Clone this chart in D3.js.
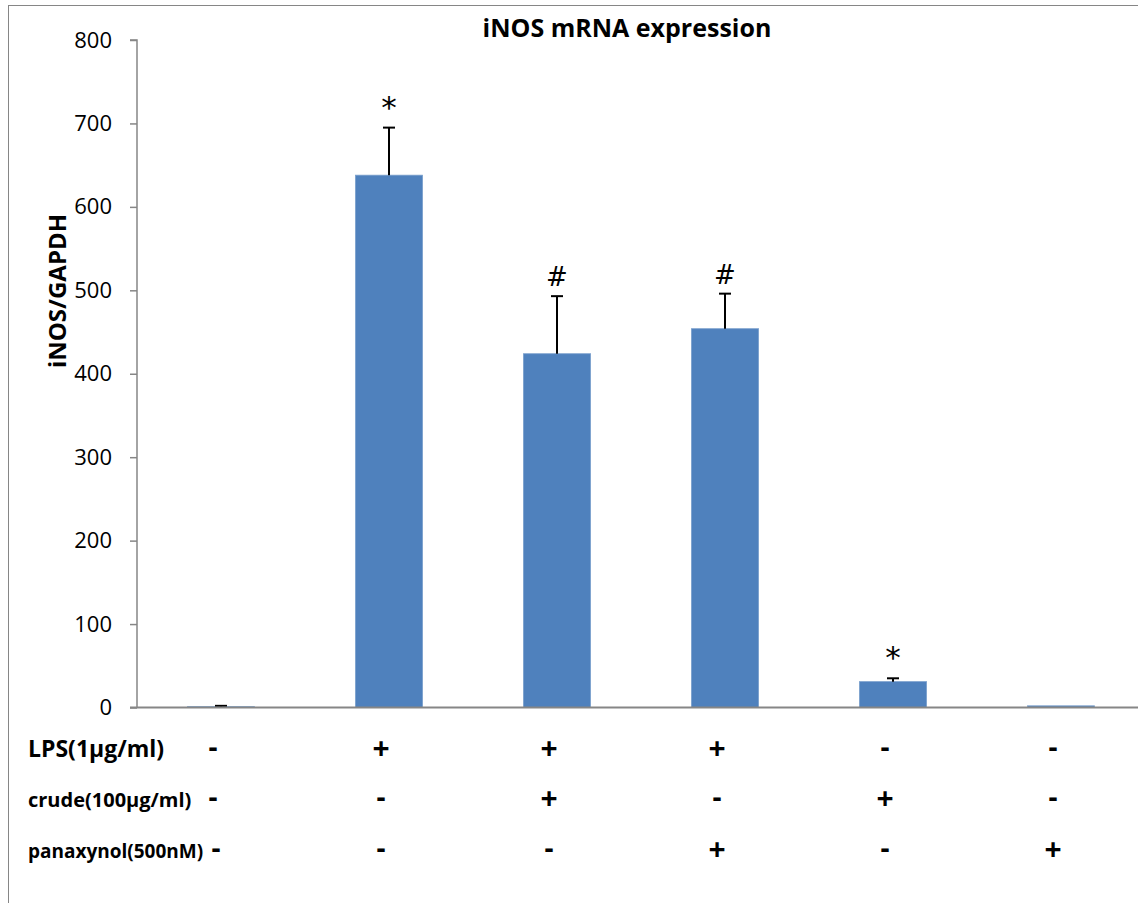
<!DOCTYPE html>
<html><head><meta charset="utf-8">
<script src="https://cdn.jsdelivr.net/npm/d3@7"></script>
<style>body{margin:0;background:#fff;} svg{display:block;font-family:"Open Sans",sans-serif;}</style>
</head><body>
<svg id="c" width="1138" height="903"></svg>
<script>
const categories = ["ctrl","LPS","LPS+crude","LPS+panaxynol","crude","panaxynol"];
const values = [1, 638, 424, 454, 31, 2];
const errors = [1, 57, 69, 42, 4, 0];
const marks = ["", "*", "#", "#", "*", ""];
const yTicks = [0,100,200,300,400,500,600,700,800];
const rowLabels = ["LPS(1μg/ml)", "crude(100μg/ml)", "panaxynol(500nM)"];
const rowSigns = [
  ["-","+","+","+","-","-"],
  ["-","-","+","-","+","-"],
  ["-","-","-","+","-","+"]
];

(function(){
const svg = d3.select("#c");
const pL = 137, pR = 1145, pT = 40, pB = 707.5;
const x = d3.scaleBand().domain(categories).range([pL, pR]).paddingInner(0.6).paddingOuter(0.3);
const y = d3.scaleLinear().domain([0, 800]).range([pB, pT]);

// outer border
svg.append("rect").attr("x",8.5).attr("y",5.5).attr("width",1160).attr("height",930)
  .attr("fill","none").attr("stroke","#868686").attr("stroke-width",1);

// y axis
const yAxis = svg.append("g").attr("transform",`translate(${pL},0)`)
  .call(d3.axisLeft(y).tickValues(yTicks).tickSize(7).tickPadding(18));
yAxis.select(".domain").attr("stroke","#868686").attr("stroke-width",1.5).attr("d",`M-7,${pT}H0V${pB}`);
yAxis.selectAll(".tick line").attr("stroke","#868686").attr("stroke-width",1.5);
yAxis.selectAll(".tick text").attr("font-size",22).attr("fill","#000").attr("font-family","'Open Sans',sans-serif");

// bars
svg.selectAll("rect.bar").data(values).join("rect").attr("class","bar")
  .attr("x",(d,i)=>x(categories[i])).attr("width",x.bandwidth())
  .attr("y",d=>y(d)).attr("height",d=>pB - y(d))
  .attr("fill","#4F81BD").attr("stroke","#7BA0CD").attr("stroke-width",0.8);

// error bars
const eg = svg.append("g").attr("stroke","#000").attr("stroke-width",2);
values.forEach((v,i)=>{
  if(!errors[i]) return;
  const cx = x(categories[i]) + x.bandwidth()/2;
  eg.append("line").attr("x1",cx).attr("x2",cx).attr("y1",y(v)).attr("y2",y(v+errors[i]));
  eg.append("line").attr("x1",cx-6).attr("x2",cx+6).attr("y1",y(v+errors[i])).attr("y2",y(v+errors[i]));
});

// x axis line
svg.append("line").attr("x1",130).attr("x2",1138).attr("y1",pB).attr("y2",pB)
  .attr("stroke","#868686").attr("stroke-width",2);

// significance marks
values.forEach((v,i)=>{
  if(!marks[i]) return;
  const cx = x(categories[i]) + x.bandwidth()/2;
  svg.append("text").attr("x",cx).attr("y",y(v+errors[i]) - 10)
    .attr("text-anchor","middle").attr("font-size", marks[i]==="*"?31:26)
    .attr("font-family","'DejaVu Sans',sans-serif")
    .attr("fill","#000").text(marks[i]);
});

// title
svg.append("text").attr("x",627).attr("y",37).attr("text-anchor","middle")
  .attr("font-size",25).attr("font-weight","bold").text("iNOS mRNA expression");

// y label
svg.append("text").attr("transform","translate(66,291) rotate(-90)").attr("text-anchor","middle")
  .attr("font-size",24).attr("font-weight","bold").text("iNOS/GAPDH");

// treatment rows
const rowY = [757, 807, 858];
const rowSize = [23, 20, 19];
rowLabels.forEach((lab,r)=>{
  svg.append("text").attr("x",28).attr("y",rowY[r]).attr("font-size",rowSize[r]).attr("font-weight","bold").text(lab);
  rowSigns[r].forEach((s,i)=>{
    const cx = x(categories[i]) + x.bandwidth()/2 - 8 + (r===2 && i===0 ? 3 : 0);
    svg.append("text").attr("x",cx).attr("y",rowY[r]+ (s==="+"?2:0)).attr("text-anchor","middle")
      .attr("font-size",s==="+"?30:28).attr("font-weight","bold").text(s);
  });
});
})();
</script>
</body></html>
